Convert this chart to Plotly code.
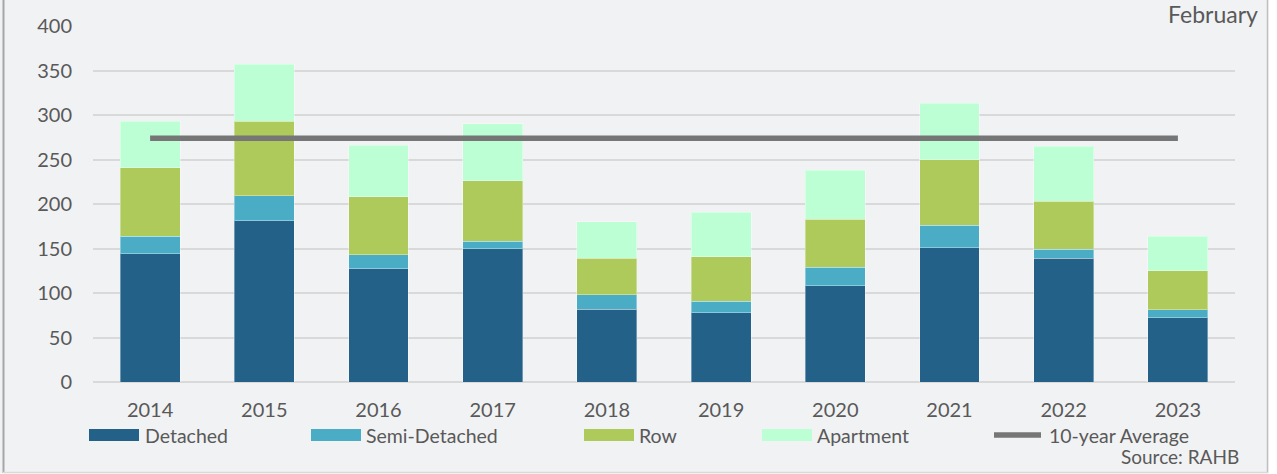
import plotly.graph_objects as go

years = ["2014", "2015", "2016", "2017", "2018", "2019", "2020", "2021", "2022", "2023"]
detached = [144, 181, 127, 150, 82, 78, 108, 151, 139, 72]
semi_detached = [20, 28, 16, 8, 16, 13, 21, 25, 10, 9]
row = [77, 84, 65, 68, 41, 50, 54, 74, 54, 44]
apartment = [52, 64, 58, 64, 41, 50, 55, 63, 62, 39]
ten_year_avg = [274] * 10
y_ticks = [0, 50, 100, 150, 200, 250, 300, 350, 400]

series_names = ["Detached", "Semi-Detached", "Row", "Apartment"]
series_colors = ["#236189", "#4BACC6", "#ADCA5A", "#BDFFD5"]
avg_name = "10-year Average"
avg_color = "#767676"

FONT = "Lato, 'Liberation Sans', sans-serif"
TXT = "#595959"
BG = "#F1F2F4"

W, H = 1277, 474
L, R, T, B = 93, 42, 26, 92
PW = W - L - R
PH = H - T - B


def px(x):
    return (x - L) / PW


def py(y):
    return (H - B - y) / PH


fig = go.Figure()
for name, vals, col in zip(series_names, [detached, semi_detached, row, apartment], series_colors):
    fig.add_trace(go.Bar(
        x=years, y=vals, name=name, marker_color=col,
        marker_line=dict(color="rgba(255,255,255,0.35)", width=1),
        showlegend=False,
    ))
fig.add_trace(go.Scatter(
    x=years, y=ten_year_avg, name=avg_name, mode="lines",
    line=dict(color=avg_color, width=5.5), showlegend=False,
))

shapes = []
annotations = []

# frame
shapes.append(dict(type="rect", xref="paper", yref="paper", layer="above",
                   x0=px(1268.5), x1=px(1290), y0=py(-20), y1=py(490),
                   fillcolor="white", line=dict(width=0)))
shapes.append(dict(type="rect", xref="paper", yref="paper", layer="above",
                   x0=px(-10), x1=px(1290), y0=py(473.5), y1=py(490),
                   fillcolor="white", line=dict(width=0)))
shapes.append(dict(type="line", xref="paper", yref="paper", layer="above",
                   x0=px(3.5), x1=px(3.5), y0=py(-5), y1=py(473),
                   line=dict(color="#A6A6A6", width=2)))
shapes.append(dict(type="line", xref="paper", yref="paper", layer="above",
                   x0=px(1267.5), x1=px(1267.5), y0=py(-5), y1=py(473),
                   line=dict(color="#BFBFBF", width=1.5)))
shapes.append(dict(type="line", xref="paper", yref="paper", layer="above",
                   x0=px(3), x1=px(1268), y0=py(472.5), y1=py(472.5),
                   line=dict(color="#D9D9D9", width=1.5)))

# manual legend
legend_x = [89, 311, 584, 762]
text_x = [145, 366, 639, 817]
for name, col, sx, tx in zip(series_names, series_colors, legend_x, text_x):
    shapes.append(dict(type="rect", xref="paper", yref="paper",
                       x0=px(sx), x1=px(sx + 50), y0=py(441), y1=py(429),
                       fillcolor=col, line=dict(width=0)))
    annotations.append(dict(text=name, xref="paper", yref="paper",
                            x=px(tx - 2), y=py(435), xanchor="left", yanchor="middle",
                            showarrow=False, font=dict(family=FONT, size=19.5, color=TXT)))
shapes.append(dict(type="line", xref="paper", yref="paper",
                   x0=px(994), x1=px(1041), y0=py(435), y1=py(435),
                   line=dict(color=avg_color, width=5.5)))
annotations.append(dict(text=avg_name, xref="paper", yref="paper",
                        x=px(1047), y=py(435), xanchor="left", yanchor="middle",
                        showarrow=False, font=dict(family=FONT, size=19.5, color=TXT)))
annotations.append(dict(text="Source: RAHB", xref="paper", yref="paper",
                        x=px(1241), y=py(456), xanchor="right", yanchor="middle",
                        showarrow=False, font=dict(family=FONT, size=19, color=TXT)))
annotations.append(dict(text="February", xref="paper", yref="paper",
                        x=px(1260), y=py(14), xanchor="right", yanchor="middle",
                        showarrow=False, font=dict(family=FONT, size=23, color=TXT)))

fig.update_layout(
    width=W, height=H,
    margin=dict(l=L, r=R, t=T, b=B, pad=0),
    barmode="stack", bargap=0.475,
    paper_bgcolor=BG, plot_bgcolor=BG,
    font=dict(family=FONT, size=20, color=TXT),
    shapes=shapes, annotations=annotations,
    showlegend=False,
)
fig.update_xaxes(type="category", showgrid=False, showline=False, ticks="",
                 tickfont=dict(family=FONT, size=20, color=TXT), ticklabelstandoff=14)
fig.update_yaxes(range=[0, 400], tickvals=y_ticks, showgrid=True, gridcolor="#D9D9D9",
                 gridwidth=2, zeroline=True, zerolinecolor="#D9D9D9", zerolinewidth=2,
                 showline=False, ticks="", tickfont=dict(family=FONT, size=20, color=TXT),
                 ticklabelstandoff=20)

fig.write_html("out.html", config={"displayModeBar": False},
               post_script="document.body.style.margin='0px';document.body.style.overflow='hidden';")
